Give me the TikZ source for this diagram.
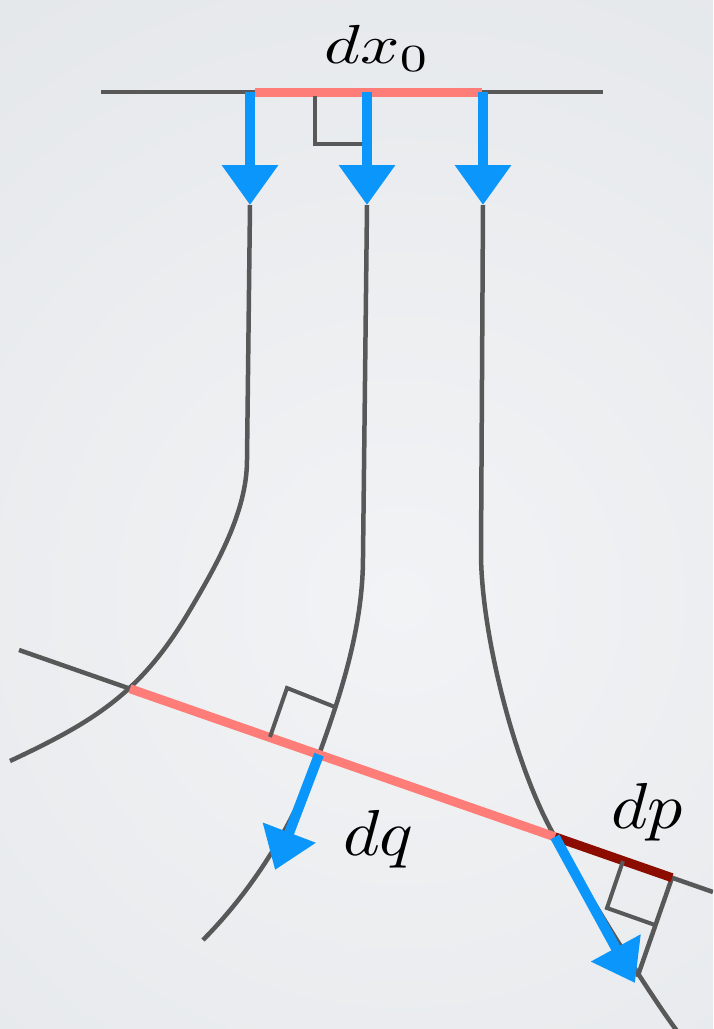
\documentclass[tikz,border=0pt]{standalone}
\usepackage{graphicx}
\usetikzlibrary{arrows.meta}
\definecolor{gline}{RGB}{88,88,88}
\definecolor{bluearr}{RGB}{10,150,250}
\definecolor{salmon}{RGB}{255,125,120}
\definecolor{darkred}{RGB}{140,12,0}
\definecolor{bgin}{RGB}{242,243,245}
\definecolor{bgout}{RGB}{228,231,234}
\begin{document}
\begin{tikzpicture}[x=1pt,y=-1pt,
  gcurve/.style={draw=gline,line width=4.5pt},
  rangle/.style={draw=gline,line width=4pt},
  redseg/.style={draw=salmon,line width=9pt},
  dpseg/.style={draw=darkred,line width=9pt},
  bluearrow/.style={draw=bluearr,line width=10pt,-{Triangle[length=40pt,width=54pt]}},
  lbl/.style={inner sep=0pt,anchor=base west}]
\useasboundingbox (0,0) rectangle (713,1029);
\begin{scope}
\clip (0,0) rectangle (713,1029);
\fill[bgout] (0,0) rectangle (713,1029);
\shade[inner color=bgin,outer color=bgout] (400,600) circle (760);
% key points
\coordinate (LA) at (101,92);
\coordinate (LB) at (603,92);
\coordinate (R1) at (255,92);
\coordinate (R2) at (482,92);
\coordinate (T1) at (250,92);
\coordinate (T2) at (367,92);
\coordinate (T3) at (483,92);
\coordinate (H1) at (250,205);
\coordinate (H2) at (367,205);
\coordinate (H3) at (483,205);
\coordinate (V1) at (247,460);
\coordinate (V2) at (363,557);
\coordinate (V3) at (481,553);
\coordinate (M1) at (190,610);
\coordinate (B1) at (10,761);
\coordinate (B2) at (203,940);
\coordinate (B3) at (680,1035);
\coordinate (P) at (19,650);
\coordinate (Q) at (713,892);
\coordinate (C1) at (130,688.7);
\coordinate (C2) at (319,754.6);
\coordinate (C3) at (555,836.9);
\coordinate (E) at (672,877.7);
\coordinate (F) at (637.4,977);
\coordinate (A2) at (275,870);
\coordinate (A3) at (635,983);
% flow lines
\draw[gcurve] (H1) -- (V1) .. controls (247,512) and (216.4,565.2) .. (M1)
  .. controls (141.8,691.9) and (96.1,720.7) .. (B1);
\draw[gcurve] (H2) -- (V2) .. controls (363,625) and (342.3,690.7) .. (C2)
  .. controls (293.8,823.9) and (254.6,887.7) .. (B2);
\draw[gcurve] (H3) -- (V3) .. controls (481,633) and (515,767.6) .. (C3)
  .. controls (585,888.9) and (644,987) .. (B3);
% cross sections
\draw[gcurve] (LA) -- (LB);
\draw[gcurve] (P) -- (Q);
\draw[gcurve] (E) -- (F);
\draw[redseg] (R1) -- (R2);
\draw[redseg] (C1) -- (C3);
\draw[dpseg] (C3) -- (E);
% right angle marks
\draw[rangle] (315,96) -- (315,144) -- (365,144);
\draw[rangle] (270,737) -- (287,688) -- (335,707);
\draw[rangle] (623,861) -- (607,908) -- (655,925);
% arrows
\draw[bluearrow] (T1) -- (H1);
\draw[bluearrow] (T2) -- (H2);
\draw[bluearrow] (T3) -- (H3);
\draw[bluearrow] (C2) -- (A2);
\draw[bluearrow] (C3) -- (A3);
\end{scope}
% labels
\node[lbl] (dx) at (324,63) {\scalebox{6.9}[5.5]{$dx_0$}};
\node[lbl] (dq) at (343,855) {\scalebox{7}[6.5]{$dq$}};
\node[lbl] (dp) at (611,828) {\scalebox{7}[6.5]{$dp$}};
\end{tikzpicture}
\end{document}
